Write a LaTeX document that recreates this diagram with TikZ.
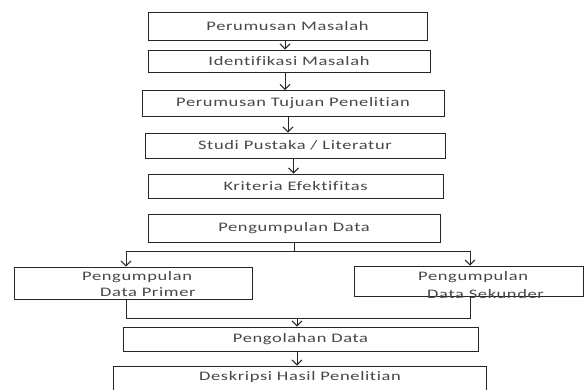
\documentclass[tikz,border=0pt]{standalone}
\usepackage{fontspec}
\setmainfont{Carlito}[FakeStretch=1.42,LetterSpace=5,Ligatures=NoCommon]
\usetikzlibrary{arrows.meta}
\begin{document}
\begin{tikzpicture}[x=1pt,y=-1pt,
  box/.style={draw=black!85, line width=0.8pt, inner sep=0pt, text=black!72,
    font=\fontsize{13}{16}\selectfont},
  txt/.style={inner sep=0pt, text=black!72, font=\fontsize{13}{16}\selectfont, anchor=base west},
  ln/.style={draw=black!85, line width=0.9pt},
  arr/.style={ln, -{Straight Barb[length=5pt,width=10pt,line width=1pt]}}]
\useasboundingbox (0,0) rectangle (585,390);
\clip (0,0) rectangle (585,390);
\node[box, minimum width=279, minimum height=28] (b1) at (287.5,26) {Perumusan Masalah};
\node[box, minimum width=282, minimum height=22] (b2) at (289,61) {Identifikasi Masalah};
\node[box, minimum width=302, minimum height=26] (b3) at (293,103.5) {Perumusan Tujuan Penelitian};
\node[box, minimum width=300, minimum height=25] (b4) at (295,145.5) {Studi Pustaka / Literatur};
\node[box, minimum width=295, minimum height=24] (b5) at (295.5,186) {Kriteria Efektifitas};
\node[box, minimum width=292, minimum height=28] (b6) at (294,228) {Pengumpulan Data};
\node[box, minimum width=238, minimum height=32] (prim) at (133,283) {};
\node[txt] (prim1) at (82,280) {Pengumpulan};
\node[txt] (prim2) at (100,296.5) {Data Primer};
\node[box, minimum width=229, minimum height=30] (sek) at (468.5,281) {};
\node[txt] (sek1) at (418,280) {Pengumpulan};
\node[txt] (sek2) at (427,298.5) {Data Sekunder};
\node[box, minimum width=355, minimum height=24] (peng) at (300.5,339) {Pengolahan Data};
\node[box, minimum width=373, minimum height=30, text height=9pt, text depth=11pt] (desk) at (300,381) {Deskripsi Hasil Penelitian};
% connectors
\draw[arr] ([xshift=-2.5]b1.south) -- ([xshift=-2.5]b1.south |- b2.north);
\draw[arr] ([xshift=-4]b2.south) -- ([xshift=-4]b2.south |- b3.north);
\draw[arr] ([xshift=-5]b3.south) -- ([xshift=-5]b3.south |- b4.north);
\draw[arr] ([xshift=-1.5]b4.south) -- ([xshift=-1.5]b4.south |- b5.north);
\coordinate (s) at (294,251);
\draw[ln] (b6.south) -- (s);
\draw[arr] (s) -| ([xshift=-7]prim.north);
\draw[arr] (s) -| ([xshift=1.5]sek.north);
\coordinate (m) at (297,318);
\draw[ln] ([xshift=-7]prim.south) |- (m);
\draw[ln] ([xshift=1.5]sek.south) |- (m);
\draw[arr] (m) -- (m |- peng.north);
\draw[arr] (peng.south -| m) -- (m |- desk.north);
\end{tikzpicture}
\end{document}
